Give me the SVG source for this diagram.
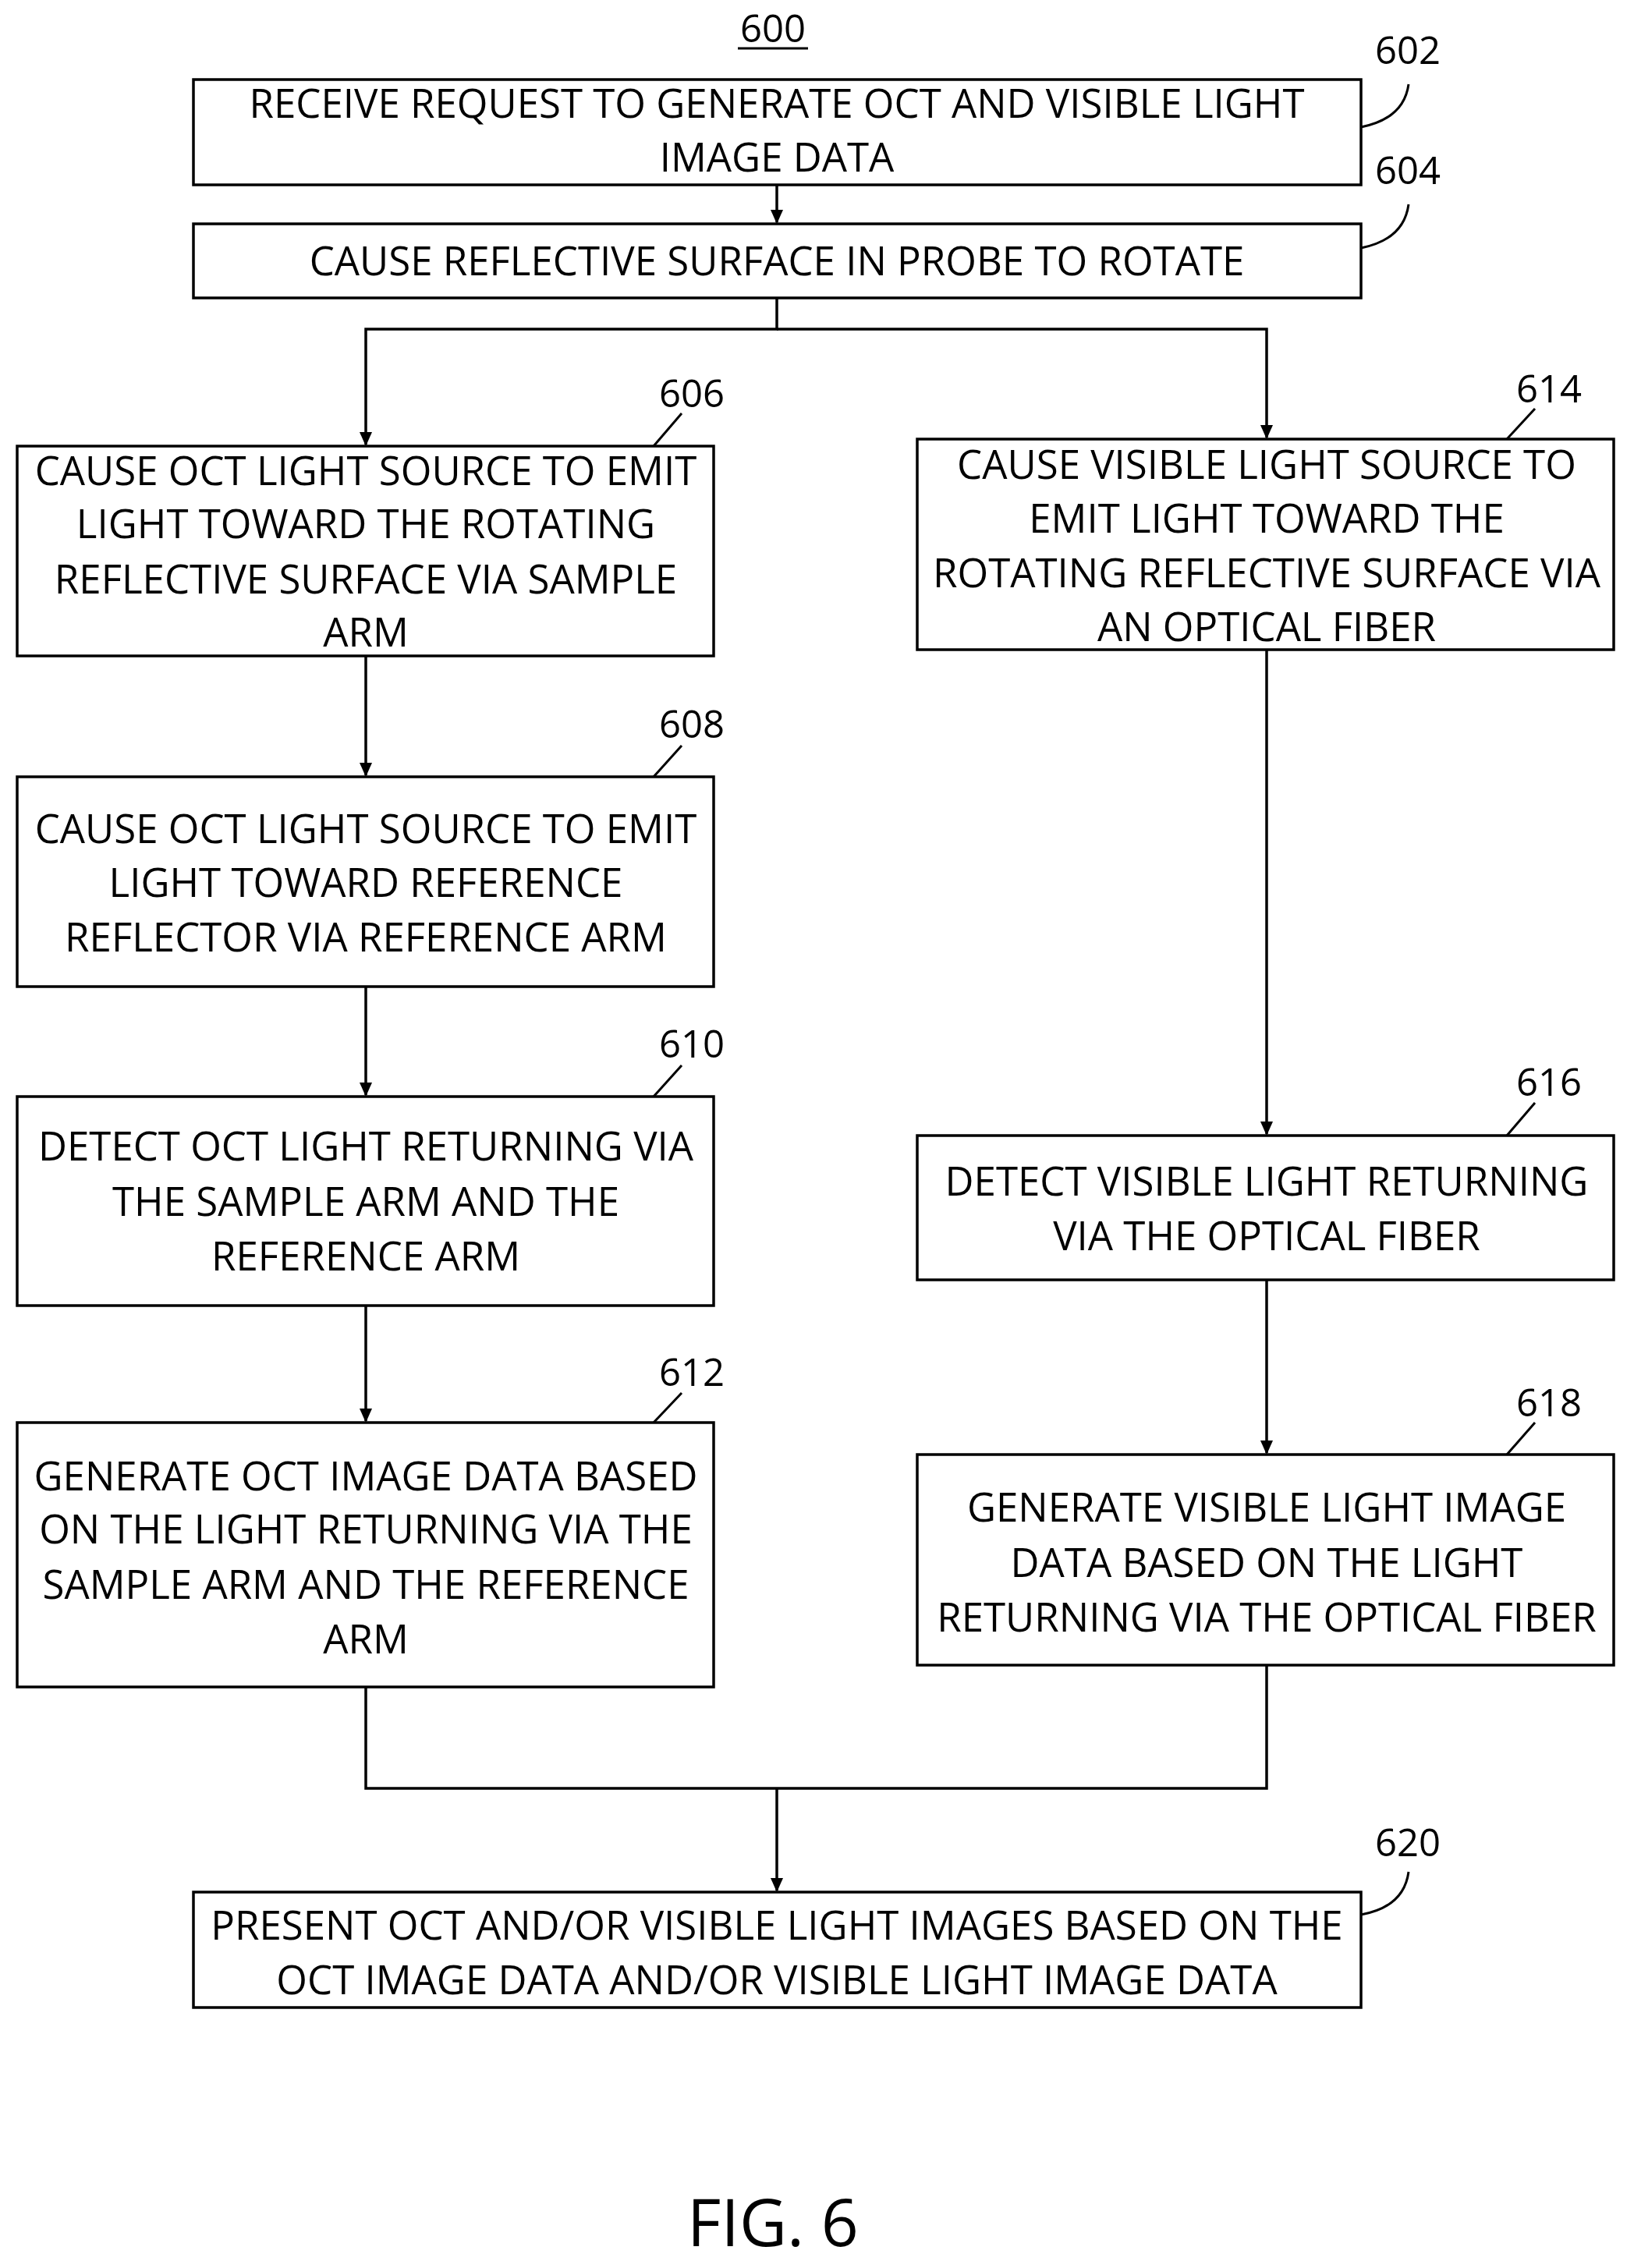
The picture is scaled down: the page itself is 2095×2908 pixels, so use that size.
<svg xmlns="http://www.w3.org/2000/svg" width="2095" height="2908" viewBox="0 0 2095 2908">
<style>
.b{fill:#fff;stroke:#000;stroke-width:3.5}
.t{font-family:"Open Sans","Liberation Sans",sans-serif;font-size:51px;text-anchor:middle;fill:#000}
.n{font-family:"Open Sans","Liberation Sans",sans-serif;font-size:49px;fill:#000}
.c{fill:none;stroke:#000;stroke-width:3.5}
.l{fill:none;stroke:#000;stroke-width:3}
</style>
<defs><marker id="a" markerWidth="18" markerHeight="16" refX="16" refY="8" orient="auto" markerUnits="userSpaceOnUse"><path d="M0,0 L18,8 L0,16 z" fill="#000"/></marker></defs>
<rect width="2095" height="2908" fill="#fff"/>
<text class="n" x="991" y="54" text-anchor="middle">600</text>
<line x1="946" y1="62" x2="1036" y2="62" stroke="#000" stroke-width="3"/>
<g id="connectors">
<line class="c" x1="996" y1="237" x2="996" y2="285" marker-end="url(#a)"/>
<polyline class="c" points="996,382 996,422 469,422 469,570" marker-end="url(#a)"/>
<polyline class="c" points="996,422 1624,422 1624,561" marker-end="url(#a)"/>
<line class="c" x1="469" y1="841" x2="469" y2="994" marker-end="url(#a)"/>
<line class="c" x1="469" y1="1265" x2="469" y2="1404" marker-end="url(#a)"/>
<line class="c" x1="469" y1="1674" x2="469" y2="1822" marker-end="url(#a)"/>
<line class="c" x1="1624" y1="833" x2="1624" y2="1454" marker-end="url(#a)"/>
<line class="c" x1="1624" y1="1641" x2="1624" y2="1863" marker-end="url(#a)"/>
<polyline class="c" points="469,2163 469,2293 1624,2293 1624,2135"/>
<line class="c" x1="996" y1="2293" x2="996" y2="2424" marker-end="url(#a)"/>
</g>
<g id="n602"><rect class="b" x="248" y="102" width="1497" height="135"/>
<text class="t" x="996" y="151">RECEIVE REQUEST TO GENERATE OCT AND VISIBLE LIGHT</text>
<text class="t" x="996" y="220">IMAGE DATA</text>
<text class="n" x="1763" y="82">602</text><path class="l" d="M1745,163 Q1800,152 1806,108"/></g>
<g id="n604"><rect class="b" x="248" y="287" width="1497" height="95"/>
<text class="t" x="996" y="353">CAUSE REFLECTIVE SURFACE IN PROBE TO ROTATE</text>
<text class="n" x="1763" y="236">604</text><path class="l" d="M1745,318 Q1800,307 1806,262"/></g>
<g id="n606"><rect class="b" x="22" y="572" width="893" height="269"/>
<text class="t" x="469" y="622">CAUSE OCT LIGHT SOURCE TO EMIT</text>
<text class="t" x="469" y="690">LIGHT TOWARD THE ROTATING</text>
<text class="t" x="469" y="761">REFLECTIVE SURFACE VIA SAMPLE</text>
<text class="t" x="469" y="829">ARM</text>
<text class="n" x="845" y="522">606</text><line class="l" x1="838" y1="572" x2="874" y2="530"/></g>
<g id="n614"><rect class="b" x="1176" y="563" width="893" height="270"/>
<text class="t" x="1624" y="614">CAUSE VISIBLE LIGHT SOURCE TO</text>
<text class="t" x="1624" y="683">EMIT LIGHT TOWARD THE</text>
<text class="t" x="1624" y="753">ROTATING REFLECTIVE SURFACE VIA</text>
<text class="t" x="1624" y="822">AN OPTICAL FIBER</text>
<text class="n" x="1944" y="516">614</text><line class="l" x1="1932" y1="563" x2="1968" y2="524"/></g>
<g id="n608"><rect class="b" x="22" y="996" width="893" height="269"/>
<text class="t" x="469" y="1081">CAUSE OCT LIGHT SOURCE TO EMIT</text>
<text class="t" x="469" y="1150">LIGHT TOWARD REFERENCE</text>
<text class="t" x="469" y="1220">REFLECTOR VIA REFERENCE ARM</text>
<text class="n" x="845" y="946">608</text><line class="l" x1="838" y1="996" x2="874" y2="956"/></g>
<g id="n610"><rect class="b" x="22" y="1406" width="893" height="268"/>
<text class="t" x="469" y="1488">DETECT OCT LIGHT RETURNING VIA</text>
<text class="t" x="469" y="1559">THE SAMPLE ARM AND THE</text>
<text class="t" x="469" y="1629">REFERENCE ARM</text>
<text class="n" x="845" y="1356">610</text><line class="l" x1="838" y1="1406" x2="874" y2="1366"/></g>
<g id="n612"><rect class="b" x="22" y="1824" width="893" height="339"/>
<text class="t" x="469" y="1911">GENERATE OCT IMAGE DATA BASED</text>
<text class="t" x="469" y="1979">ON THE LIGHT RETURNING VIA THE</text>
<text class="t" x="469" y="2050">SAMPLE ARM AND THE REFERENCE</text>
<text class="t" x="469" y="2120">ARM</text>
<text class="n" x="845" y="1777">612</text><line class="l" x1="838" y1="1824" x2="874" y2="1786"/></g>
<g id="n616"><rect class="b" x="1176" y="1456" width="893" height="185"/>
<text class="t" x="1624" y="1533">DETECT VISIBLE LIGHT RETURNING</text>
<text class="t" x="1624" y="1603">VIA THE OPTICAL FIBER</text>
<text class="n" x="1944" y="1405">616</text><line class="l" x1="1932" y1="1456" x2="1968" y2="1414"/></g>
<g id="n618"><rect class="b" x="1176" y="1865" width="893" height="270"/>
<text class="t" x="1624" y="1951">GENERATE VISIBLE LIGHT IMAGE</text>
<text class="t" x="1624" y="2022">DATA BASED ON THE LIGHT</text>
<text class="t" x="1624" y="2092">RETURNING VIA THE OPTICAL FIBER</text>
<text class="n" x="1944" y="1816">618</text><line class="l" x1="1932" y1="1865" x2="1968" y2="1824"/></g>
<g id="n620"><rect class="b" x="248" y="2426" width="1497" height="148"/>
<text class="t" x="996" y="2487">PRESENT OCT AND/OR VISIBLE LIGHT IMAGES BASED ON THE</text>
<text class="t" x="996" y="2557">OCT IMAGE DATA AND/OR VISIBLE LIGHT IMAGE DATA</text>
<text class="n" x="1763" y="2380">620</text><path class="l" d="M1745,2455 Q1800,2445 1806,2400"/></g>
<text x="991" y="2880" text-anchor="middle" font-family="Open Sans,Liberation Sans,sans-serif" font-size="84">FIG. 6</text>
</svg>
